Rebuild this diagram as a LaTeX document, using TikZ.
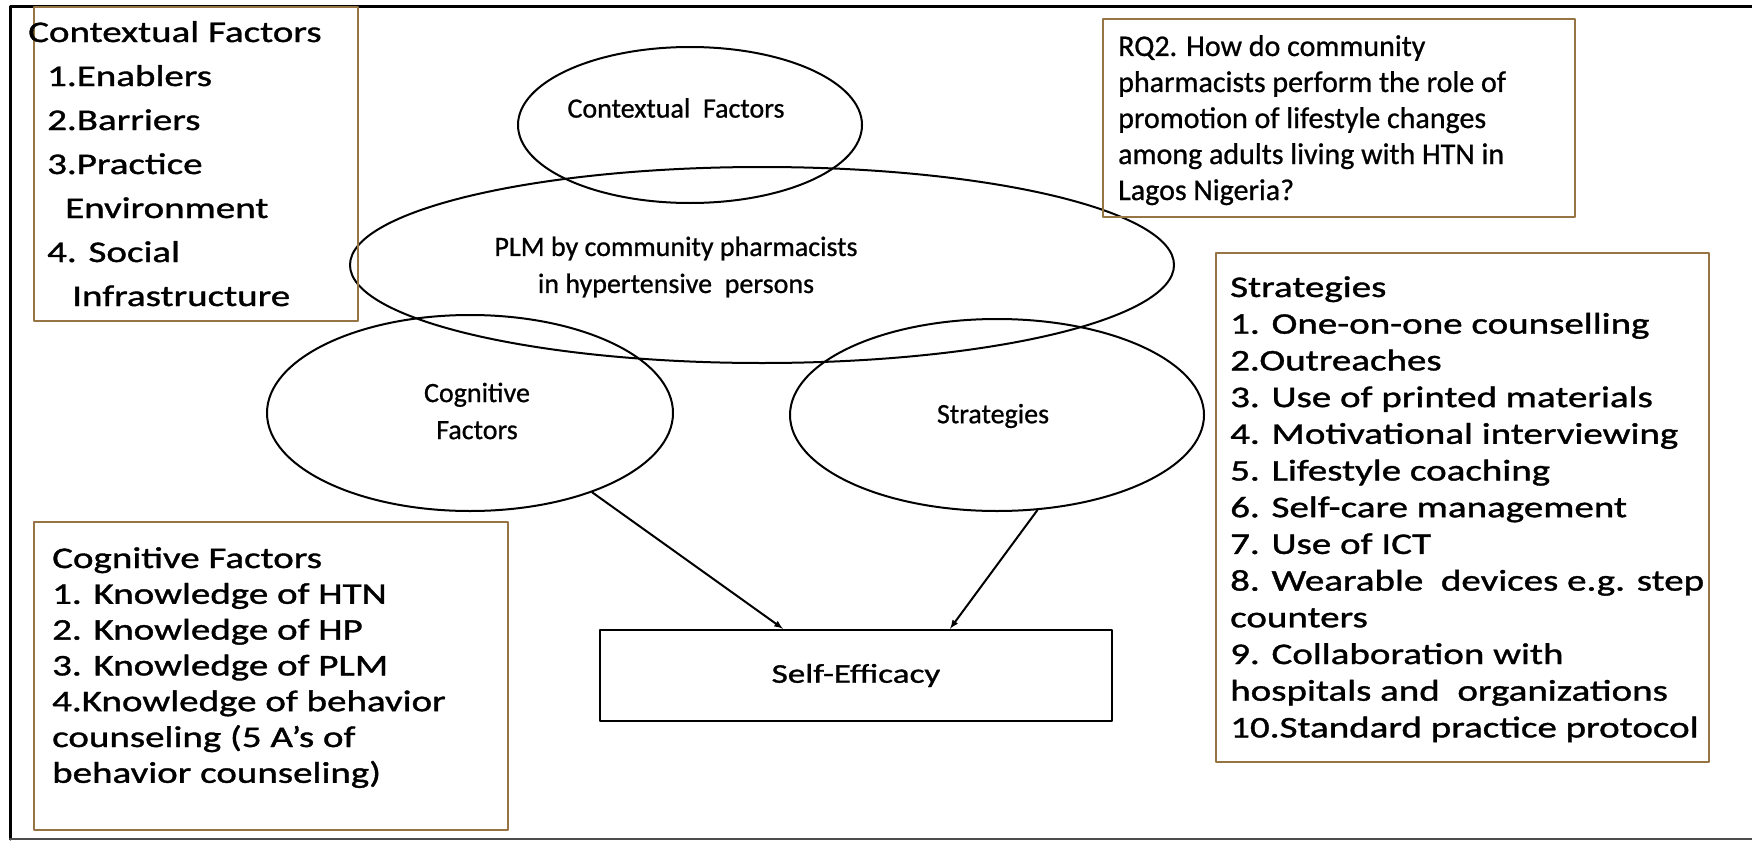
\documentclass[tikz,border=0pt]{standalone}
\usepackage{fontspec}
\setmainfont{Carlito}[FakeBold=0.8]
\newfontfamily\widefont{Carlito}[FakeStretch=1.3,FakeBold=1.2]
\usetikzlibrary{shapes.geometric}

\definecolor{boxbrown}{RGB}{150,116,68}

\tikzset{
  oval/.style={draw,ellipse,line width=2pt,inner sep=0pt},
  ovaltext/.style={inner sep=0pt,align=center,font=\fontsize{28}{37}\selectfont},
  listbox/.style={draw=boxbrown,line width=2.5pt,inner sep=0pt},
  listline/.style={anchor=base west,inner sep=0pt,font=\widefont\fontsize{30}{36}\selectfont},
  rqline/.style={anchor=base west,inner sep=0pt,font=\fontsize{30}{36}\selectfont},
  link/.style={-latex,line width=2pt}
}

\begin{document}
\begin{tikzpicture}[x=1pt,y=-1pt,line cap=round,line join=round]
        \useasboundingbox (0,0) rectangle (1752,843);

        % page frame
        \draw[line width=3pt] (1752,7) -- (10,7) -- (10,839);
        \draw[line width=2pt,black!70] (10,839) -- (1752,839);

        % ellipses
        \node[oval,minimum width=344pt,minimum height=156pt] (ctxell) at (690,125) {};
        \node[oval,minimum width=824pt,minimum height=196pt] (plmell) at (762,265) {};
        \node[oval,minimum width=406pt,minimum height=196pt] (cogell) at (470,413) {};
        \node[oval,minimum width=414pt,minimum height=192pt] (stratell) at (997,415) {};

        \node[ovaltext] (ctxtext) at (676,108) {Contextual\ \ Factors};
        \node[ovaltext] (plmtext) at (676,267) {PLM by community pharmacists\\in hypertensive\ \ persons};
        \node[ovaltext] (cogtext) at (477,411) {Cognitive\\Factors};
        \node[ovaltext] (strattext) at (993,416) {Strategies};

        % outcome box
        \node[draw,line width=2.5pt,inner sep=0pt,minimum width=512pt,minimum height=91pt,
              font=\widefont\fontsize{27}{32}\selectfont] (eff) at (856,675.5) {Self-Efficacy\hspace{96pt}};

        \draw[link] (cogell.-33) -- ([xshift=-73pt]eff.north);
        \draw[link] (stratell.-67.5) -- ([xshift=94pt]eff.north);

        % side boxes
        \node[listbox,minimum width=324pt,minimum height=314pt] (ctxbox) at (196,164) {};
        \node[listbox,minimum width=472pt,minimum height=198pt] (rqbox) at (1339,118) {};
        \node[listbox,minimum width=493pt,minimum height=509pt] (stratbox) at (1462.5,507.5) {};
        \node[listbox,minimum width=474pt,minimum height=308pt] (cogbox) at (271,676) {};

        \foreach \k/\x/\t in {0/28/{Contextual Factors},1/47/{1.Enablers},2/47/{2.Barriers},
                              3/47/{3.Practice},4/65/{Environment},5/47/{4. Social},6/72/{Infrastructure}} {
            \node[listline] (ctx-\k) at (\x,42+44*\k) {\t};
        }

        \foreach \k/\t in {0/{RQ2. How do community},1/{pharmacists perform the role of},
                           2/{promotion of lifestyle changes},3/{among adults living with HTN in},
                           4/{Lagos Nigeria?}} {
            \node[rqline] (rq-\k) at (1118,56+36*\k) {\t};
        }

        \foreach \k/\t in {0/{Strategies},1/{1. One-on-one counselling},2/{2.Outreaches},
                           3/{3. Use of printed materials},4/{4. Motivational interviewing},
                           5/{5. Lifestyle coaching},6/{6. Self-care management},7/{7. Use of ICT},
                           8/{8. Wearable\ \ devices e.g. step},9/{counters},10/{9. Collaboration with},
                           11/{hospitals and\ \ organizations},12/{10.Standard practice protocol}} {
            \node[listline] (strat-\k) at (1230,297+36.7*\k) {\t};
        }

        \foreach \k/\t in {0/{Cognitive Factors},1/{1. Knowledge of HTN},2/{2. Knowledge of HP},
                           3/{3. Knowledge of PLM},4/{4.Knowledge of behavior},
                           5/{counseling (5 A’s of},6/{behavior counseling)}} {
            \node[listline] (cog-\k) at (52,568+35.8*\k) {\t};
        }
    \end{tikzpicture}
\end{document}
